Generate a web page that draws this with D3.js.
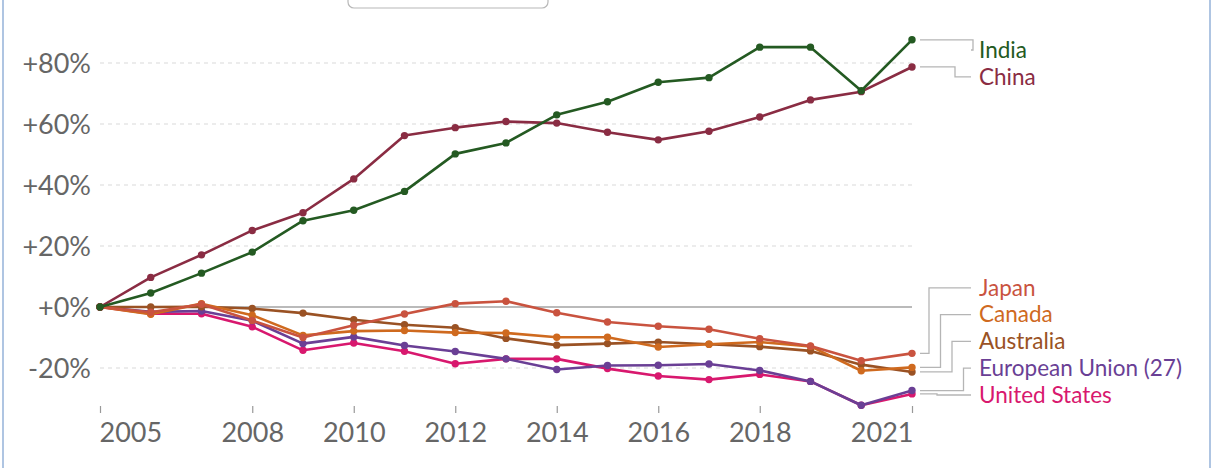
<!DOCTYPE html>
<html>
<head>
<meta charset="utf-8">
<script src="https://cdn.jsdelivr.net/npm/d3@7"></script>
<style>
  html, body { margin: 0; padding: 0; background: #fff; }
  svg { display: block; font-family: Lato, "Open Sans", sans-serif; }
</style>
</head>
<body>
<svg id="chart" width="1213" height="468"></svg>
<script>
// ---- Data (percent change relative to 2005) ----
const years = [2005, 2006, 2007, 2008, 2009, 2010, 2011, 2012, 2013, 2014, 2015, 2016, 2017, 2018, 2019, 2020, 2021];
const india     = [0, 4.6, 11.1, 18.0, 28.3, 31.7, 37.9, 50.2, 53.8, 63.0, 67.3, 73.7, 75.2, 85.2, 85.2, 70.9, 87.6];
const china     = [0, 9.7, 17.1, 25.1, 30.9, 42.0, 56.2, 58.8, 60.8, 60.3, 57.3, 54.8, 57.6, 62.3, 67.9, 70.6, 78.7];
const japan     = [0, -1.7, 0.9, -4.4, -10.0, -6.0, -2.3, 1.1, 1.9, -1.9, -4.9, -6.3, -7.3, -10.4, -12.8, -17.6, -15.2];
const canada    = [0, -2.4, 1.1, -2.7, -9.3, -7.9, -7.7, -8.4, -8.5, -9.9, -9.9, -13.1, -12.2, -11.5, -12.9, -20.9, -19.8];
const australia = [0, 0, 0.1, -0.5, -2.0, -4.2, -5.8, -6.8, -10.3, -12.5, -12.0, -11.5, -12.2, -13.0, -14.4, -18.9, -21.3];
const eu        = [0, -1.6, -1.3, -4.5, -12.0, -9.8, -12.6, -14.6, -17.0, -20.5, -19.2, -19.1, -18.7, -20.8, -24.4, -32.2, -27.4];
const us        = [0, -2.2, -2.2, -6.5, -14.2, -11.8, -14.5, -18.6, -17.0, -17.0, -20.2, -22.6, -23.8, -22.1, -24.4, -32.2, -28.5];

const seriesNames  = ["India", "China", "Japan", "Canada", "Australia", "European Union (27)", "United States"];
const seriesValues = [india, china, japan, canada, australia, eu, us];
const seriesColors = ["#245a22", "#8a2c43", "#c9533f", "#cf6a1f", "#9a5224", "#6a3f95", "#d8186e"];

const yTickValues = [-20, 0, 20, 40, 60, 80];
const xTickValues = [2005, 2008, 2010, 2012, 2014, 2016, 2018, 2021];

// ---- Layout ----
const svg = d3.select("#chart");
const W = 1213, H = 468;
const x = d3.scaleLinear().domain([2005, 2021]).range([100, 912]);
const y = d3.scaleLinear().domain([-20, 80]).range([368, 63]);

// frame borders
svg.append("line").attr("x1", 3).attr("x2", 3).attr("y1", 0).attr("y2", H)
  .attr("stroke", "#94b2d8").attr("stroke-width", 1.5);
svg.append("line").attr("x1", 1210).attr("x2", 1210).attr("y1", 0).attr("y2", H)
  .attr("stroke", "#94b2d8").attr("stroke-width", 1.5);

// partial control box at top
svg.append("rect").attr("x", 348).attr("y", -12).attr("width", 200).attr("height", 20)
  .attr("rx", 6).attr("fill", "#fff").attr("stroke", "#b8b8b8").attr("stroke-width", 1.2);

// gridlines
const grid = svg.append("g");
grid.selectAll("line").data(yTickValues.filter(v => v !== 0)).join("line")
  .attr("x1", x(2005)).attr("x2", x(2021))
  .attr("y1", d => y(d)).attr("y2", d => y(d))
  .attr("stroke", "#d9d9d9").attr("stroke-width", 1.2).attr("stroke-dasharray", "4,4");
svg.append("line").attr("x1", x(2005)).attr("x2", x(2021))
  .attr("y1", y(0)).attr("y2", y(0))
  .attr("stroke", "#a3a3a3").attr("stroke-width", 1.5);

// y axis labels
const yAxis = d3.axisLeft(y).tickValues(yTickValues)
  .tickFormat(d => (d >= 0 ? "+" : "") + d + "%").tickSize(0).tickPadding(0);
const yg = svg.append("g").attr("transform", "translate(91,0)").call(yAxis);
yg.select(".domain").remove();
yg.selectAll("text").attr("font-size", 27).attr("fill", "#666").attr("font-family", "Lato")
  .attr("dy", "0.35em");

// x axis
const xAxis = d3.axisBottom(x).tickValues(xTickValues).tickFormat(d3.format("d"))
  .tickSize(7).tickPadding(10);
const xg = svg.append("g").attr("transform", "translate(0,406)").call(xAxis);
xg.select(".domain").remove();
xg.selectAll("line").attr("stroke", "#999").attr("stroke-width", 1.2);
xg.selectAll("text").attr("font-size", 27).attr("fill", "#666").attr("font-family", "Lato")
  .attr("text-anchor", d => d === 2005 ? "start" : (d === 2021 ? "end" : "middle"))
  .attr("dx", d => d === 2005 ? -1 : (d === 2021 ? 1 : 0));

// lines & points
const line = d3.line().x((d, i) => x(years[i])).y(d => y(d));
const drawOrder = [6, 5, 4, 3, 2, 1, 0];
drawOrder.forEach(k => {
  const g = svg.append("g");
  g.append("path").datum(seriesValues[k]).attr("d", line)
    .attr("fill", "none").attr("stroke", seriesColors[k]).attr("stroke-width", 2.6)
    .attr("stroke-linejoin", "round");
  g.selectAll("circle").data(seriesValues[k]).join("circle")
    .attr("cx", (d, i) => x(years[i])).attr("cy", d => y(d)).attr("r", 3.7)
    .attr("fill", seriesColors[k]);
});

// end labels with collision avoidance
const spacing = 26.8, topBound = 50, bottomBound = 395;
const items = seriesNames.map((n, k) => ({
  name: n, color: seriesColors[k], py: y(seriesValues[k][seriesValues[k].length - 1])
})).sort((a, b) => a.py - b.py);
let prev = -Infinity;
items.forEach(it => { it.ly = Math.max(it.py, topBound, prev + spacing); prev = it.ly; });
let next = Infinity;
for (let i = items.length - 1; i >= 0; i--) {
  items[i].ly = Math.min(items[i].ly, bottomBound, next - spacing); next = items[i].ly;
}
// elbow positions: lines going up / down / straight
const ups = items.filter(it => it.ly < it.py - 0.5);
const downs = items.filter(it => it.ly > it.py + 0.5);
items.forEach(it => { it.ex = 940; });
ups.forEach((it, i) => { it.ex = 929 + 11.5 * i; });
downs.slice().reverse().forEach((it, i) => { it.ex = 937 + 18 * i; });

const lx0 = x(2021) + 8, lx1 = 971, tx = 979;
items.forEach(it => {
  svg.append("path")
    .attr("d", `M${lx0},${it.py}H${it.ex}V${it.ly}H${lx1}`)
    .attr("fill", "none").attr("stroke", "#b5b5b5").attr("stroke-width", 1.3);
  svg.append("text").attr("x", tx).attr("y", it.ly).attr("dy", "0.35em")
    .attr("font-size", 22.5).attr("font-family", "Lato").attr("fill", it.color)
    .text(it.name);
});
</script>
</body>
</html>
